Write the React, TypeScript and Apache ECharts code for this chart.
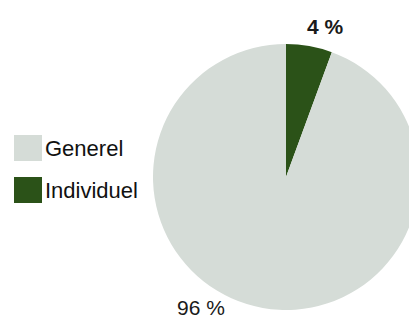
import React, { useEffect, useRef } from "react";
import * as echarts from "echarts";

// Slice order drawn clockwise from the top
const categories = ["Individuel", "Generel"];
const sliceValues = [5.6, 94.4];
const sliceLabels = ["4 %", "96 %"];
const legendOrder = ["Generel", "Individuel"];
const colors = ["#2b5218", "#d5dcd7"];

export default function App() {
  const ref = useRef<HTMLDivElement>(null);
  useEffect(() => {
    if (!ref.current) return;
    const chart = echarts.init(ref.current, null, { renderer: "svg" });
    const font = "'Liberation Sans', Arial, sans-serif";
    const labelPos = [
      { x: 325, y: 26, fontWeight: "bold" },
      { x: 201, y: 307, fontWeight: "normal" },
    ];
    chart.setOption({
      animation: false,
      backgroundColor: "#ffffff",
      legend: {
        orient: "vertical",
        left: 14,
        top: 135,
        padding: 0,
        itemWidth: 28,
        itemHeight: 26,
        itemGap: 16,
        icon: "rect",
        data: legendOrder,
        textStyle: { fontSize: 22, color: "#111111", fontFamily: font, padding: [0, 0, 0, -2] },
      },
      series: [
        {
          type: "pie",
          center: [286, 177],
          radius: 133,
          startAngle: 90,
          clockwise: true,
          silent: true,
          itemStyle: { borderWidth: 0 },
          label: {
            show: true,
            position: "outside",
            fontFamily: font,
            fontSize: 21,
            color: "#1a1a1a",
            formatter: (p: any) => sliceLabels[p.dataIndex],
          },
          labelLine: { show: false },
          labelLayout: (p: any) => ({
            x: labelPos[p.dataIndex].x,
            y: labelPos[p.dataIndex].y,
            align: "center",
            verticalAlign: "middle",
          }),
          data: categories.map((name, i) => ({
            name,
            value: sliceValues[i],
            itemStyle: { color: colors[i] },
            label: { fontWeight: labelPos[i].fontWeight },
          })),
        },
      ],
    });
    return () => chart.dispose();
  }, []);
  return (
    <div
      ref={ref}
      style={{ position: "fixed", left: 0, top: 0, width: 409, height: 318 }}
    />
  );
}
